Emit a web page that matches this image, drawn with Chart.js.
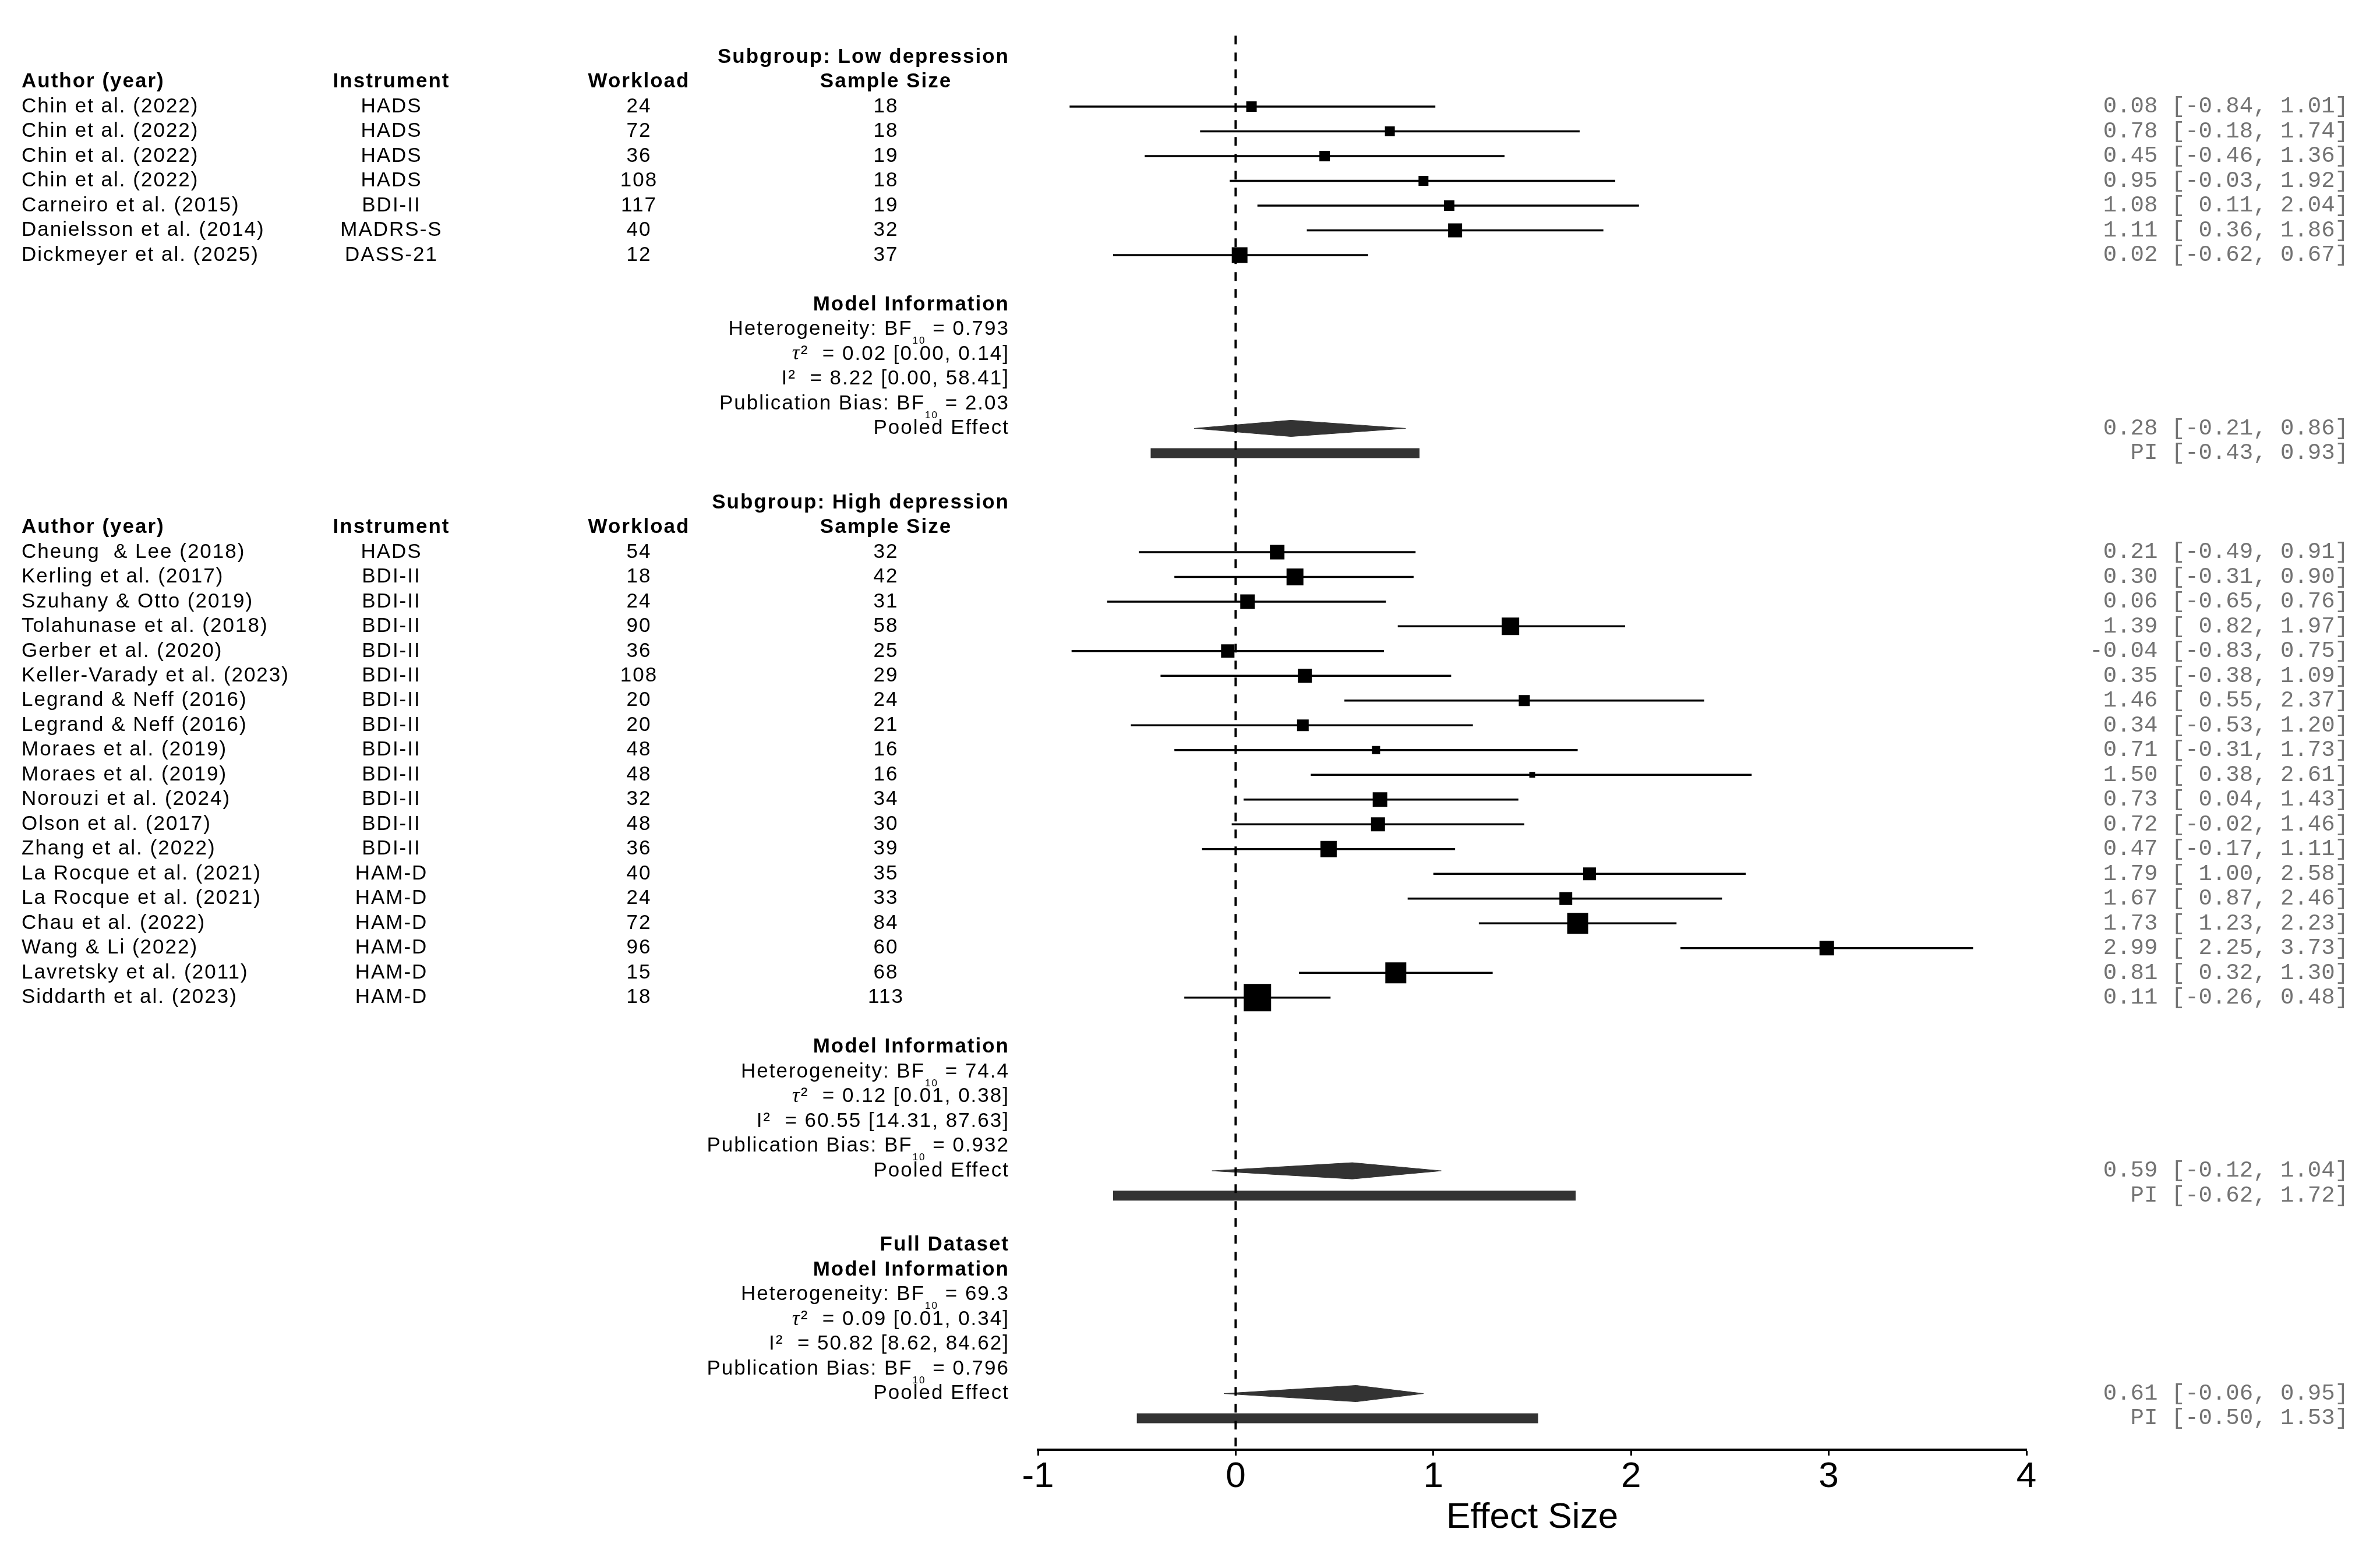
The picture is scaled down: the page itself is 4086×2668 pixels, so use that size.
<!DOCTYPE html>
<html>
<head>
<meta charset="utf-8">
<script src="https://cdn.jsdelivr.net/npm/chart.js"></script>
<style>
  html, body { margin: 0; padding: 0; background: #fff; }
  #wrap { width: 4086px; height: 2668px; }
</style>
</head>
<body>
<div id="wrap"><canvas id="chart1" width="4086" height="2668"></canvas></div>
<script>
// ---- data ----
const lowAuthors = ['Chin et al. (2022)', 'Chin et al. (2022)', 'Chin et al. (2022)', 'Chin et al. (2022)',
  'Carneiro et al. (2015)', 'Danielsson et al. (2014)', 'Dickmeyer et al. (2025)'];
const lowInstruments = ['HADS', 'HADS', 'HADS', 'HADS', 'BDI-II', 'MADRS-S', 'DASS-21'];
const lowWorkload = [24, 72, 36, 108, 117, 40, 12];
const lowSampleSize = [18, 18, 19, 18, 19, 32, 37];
const lowEffect = [0.08, 0.78, 0.45, 0.95, 1.08, 1.11, 0.02];
const lowLower = [-0.84, -0.18, -0.46, -0.03, 0.11, 0.36, -0.62];
const lowUpper = [1.01, 1.74, 1.36, 1.92, 2.04, 1.86, 0.67];
const lowWeight = [1.8, 1.7, 1.8, 1.7, 1.8, 2.4, 2.7];   // relative study weight (marker size)

const highAuthors = ['Cheung  & Lee (2018)', 'Kerling et al. (2017)', 'Szuhany & Otto (2019)', 'Tolahunase et al. (2018)',
  'Gerber et al. (2020)', 'Keller-Varady et al. (2023)', 'Legrand & Neff (2016)', 'Legrand & Neff (2016)',
  'Moraes et al. (2019)', 'Moraes et al. (2019)', 'Norouzi et al. (2024)', 'Olson et al. (2017)',
  'Zhang et al. (2022)', 'La Rocque et al. (2021)', 'La Rocque et al. (2021)', 'Chau et al. (2022)',
  'Wang & Li (2022)', 'Lavretsky et al. (2011)', 'Siddarth et al. (2023)'];
const highInstruments = ['HADS', 'BDI-II', 'BDI-II', 'BDI-II', 'BDI-II', 'BDI-II', 'BDI-II', 'BDI-II', 'BDI-II',
  'BDI-II', 'BDI-II', 'BDI-II', 'BDI-II', 'HAM-D', 'HAM-D', 'HAM-D', 'HAM-D', 'HAM-D', 'HAM-D'];
const highWorkload = [54, 18, 24, 90, 36, 108, 20, 20, 48, 48, 32, 48, 36, 40, 24, 72, 96, 15, 18];
const highSampleSize = [32, 42, 31, 58, 25, 29, 24, 21, 16, 16, 34, 30, 39, 35, 33, 84, 60, 68, 113];
const highEffect = [0.21, 0.30, 0.06, 1.39, -0.04, 0.35, 1.46, 0.34, 0.71, 1.50, 0.73, 0.72, 0.47, 1.79, 1.67, 1.73, 2.99, 0.81, 0.11];
const highLower = [-0.49, -0.31, -0.65, 0.82, -0.83, -0.38, 0.55, -0.53, -0.31, 0.38, 0.04, -0.02, -0.17, 1.00, 0.87, 1.23, 2.25, 0.32, -0.26];
const highUpper = [0.91, 0.90, 0.76, 1.97, 0.75, 1.09, 2.37, 1.20, 1.73, 2.61, 1.43, 1.46, 1.11, 2.58, 2.46, 2.23, 3.73, 1.30, 0.48];
const highWeight = [2.5, 2.9, 2.5, 3.0, 2.3, 2.4, 1.9, 2.0, 1.4, 1.0, 2.5, 2.4, 2.8, 2.2, 2.2, 3.6, 2.5, 3.6, 4.7];

// model blocks: low, high, full dataset
const modelHeterogeneityBF = ['0.793', '74.4', '69.3'];
const modelTau2 = ['0.02 [0.00, 0.14]', '0.12 [0.01, 0.38]', '0.09 [0.01, 0.34]'];
const modelI2 = ['8.22 [0.00, 58.41]', '60.55 [14.31, 87.63]', '50.82 [8.62, 84.62]'];
const modelPubBiasBF = ['2.03', '0.932', '0.796'];
const pooledEffect = [0.28, 0.59, 0.61];
const pooledLower = [-0.21, -0.12, -0.06];
const pooledUpper = [0.86, 1.04, 0.95];
const piLower = [-0.43, -0.62, -0.50];
const piUpper = [0.93, 1.72, 1.53];

const xTicks = [-1, 0, 1, 2, 3, 4];

// ---- styling ----
const SANS = '"Liberation Sans", Arial, Helvetica, sans-serif';
const MONO = '"Liberation Mono", "Courier New", monospace';
const SERIF = '"Liberation Serif", "Times New Roman", serif';
const F_REG = '35px ' + SANS;
const F_BOLD = 'bold 35px ' + SANS;
const F_SUB = '17px ' + SANS;
const F_TAU = 'italic 36px ' + SERIF;
const F_MONO = '39px ' + MONO;
const LS = '2px';
const X_AUTHOR = 37, X_INSTR = 672, X_WORK = 1097, X_N = 1521, X_LABEL = 1733, X_CI = 4032;
const SUB_DY = 20;
const DIAMOND_H = 0.33;   // half height in row units

function fmt(v) { return v.toFixed(2); }
function ciText(es, lo, hi) { return fmt(es) + ' [' + fmt(lo).padStart(5, ' ') + ', ' + fmt(hi) + ']'; }

// ---- build rows ----
const textItems = [];
const squarePts = [];
const squareSize = [];
const whiskers = [];
const diamonds = [];
const piBars = [];
let row = 0;

function txt(r, x, align, segs, extra) {
  textItems.push(Object.assign({ row: r, x: x, align: align, segs: segs }, extra || {}));
}

function addModel(k) {
  txt(row++, X_LABEL, 'right', [{ t: 'Model Information', font: F_BOLD }]);
  txt(row++, X_LABEL, 'right', [{ t: 'Heterogeneity: BF', font: F_REG }, { t: '10', font: F_SUB, dy: SUB_DY }, { t: ' = ' + modelHeterogeneityBF[k], font: F_REG }]);
  txt(row++, X_LABEL, 'right', [{ t: '\u03c4', font: F_TAU }, { t: '\u00b2  = ' + modelTau2[k], font: F_REG }]);
  txt(row++, X_LABEL, 'right', [{ t: 'I\u00b2  = ' + modelI2[k], font: F_REG }]);
  txt(row++, X_LABEL, 'right', [{ t: 'Publication Bias: BF', font: F_REG }, { t: '10', font: F_SUB, dy: SUB_DY }, { t: ' = ' + modelPubBiasBF[k], font: F_REG }]);
  txt(row, X_LABEL, 'right', [{ t: 'Pooled Effect', font: F_REG }]);
  txt(row, X_CI, 'right', [{ t: ciText(pooledEffect[k], pooledLower[k], pooledUpper[k]), font: F_MONO }], { mono: true });
  diamonds.push([
    { x: pooledLower[k], y: row }, { x: pooledEffect[k], y: row - DIAMOND_H },
    { x: pooledUpper[k], y: row }, { x: pooledEffect[k], y: row + DIAMOND_H },
    { x: pooledLower[k], y: row }
  ]);
  row++;
  txt(row, X_CI, 'right', [{ t: 'PI [' + fmt(piLower[k]) + ', ' + fmt(piUpper[k]) + ']', font: F_MONO }], { mono: true });
  piBars.push([{ x: piLower[k], y: row }, { x: piUpper[k], y: row }]);
  row++;
}

const sections = [
  { title: 'Subgroup: Low depression', au: lowAuthors, ins: lowInstruments, wl: lowWorkload, n: lowSampleSize, es: lowEffect, lo: lowLower, hi: lowUpper, wt: lowWeight },
  { title: 'Subgroup: High depression', au: highAuthors, ins: highInstruments, wl: highWorkload, n: highSampleSize, es: highEffect, lo: highLower, hi: highUpper, wt: highWeight }
];

sections.forEach((s, k) => {
  txt(row++, X_LABEL, 'right', [{ t: s.title, font: F_BOLD }]);
  txt(row, X_AUTHOR, 'left', [{ t: 'Author (year)', font: F_BOLD }]);
  txt(row, X_INSTR, 'center', [{ t: 'Instrument', font: F_BOLD }]);
  txt(row, X_WORK, 'center', [{ t: 'Workload', font: F_BOLD }]);
  txt(row, X_N, 'center', [{ t: 'Sample Size', font: F_BOLD }]);
  row++;
  s.au.forEach((a, i) => {
    txt(row, X_AUTHOR, 'left', [{ t: a, font: F_REG }]);
    txt(row, X_INSTR, 'center', [{ t: s.ins[i], font: F_REG }]);
    txt(row, X_WORK, 'center', [{ t: String(s.wl[i]), font: F_REG }]);
    txt(row, X_N, 'center', [{ t: String(s.n[i]), font: F_REG }]);
    txt(row, X_CI, 'right', [{ t: ciText(s.es[i], s.lo[i], s.hi[i]), font: F_MONO }], { mono: true });
    squarePts.push({ x: s.es[i], y: row });
    squareSize.push(s.wt[i]);
    whiskers.push([{ x: s.lo[i], y: row }, { x: s.hi[i], y: row }]);
    row++;
  });
  row++;
  addModel(k);
  row++;
});
txt(row++, X_LABEL, 'right', [{ t: 'Full Dataset', font: F_BOLD }]);
addModel(2);

const Y_TOP = -1.527, Y_BOTTOM = 56.27;

// ---- datasets ----
const datasets = [];
datasets.push({
  type: 'line', data: [{ x: 0, y: -0.87 }, { x: 0, y: Y_BOTTOM }],
  borderColor: '#000', borderWidth: 4, borderDash: [15, 14], pointRadius: 0, order: 0
});
datasets.push({
  type: 'scatter', data: squarePts,
  pointStyle: 'rect', backgroundColor: '#000', borderWidth: 0,
  pointRadius: ctx => squareSize[ctx.dataIndex] * 10 / Math.SQRT2, order: 1
});
whiskers.forEach(w => datasets.push({
  type: 'line', data: w, borderColor: '#000', borderWidth: 3.5, pointRadius: 0, order: 2
}));
diamonds.forEach(d => datasets.push({
  type: 'line', data: d, borderColor: '#333', backgroundColor: '#333', borderWidth: 1,
  fill: 'shape', pointRadius: 0, order: 3
}));
piBars.forEach(b => datasets.push({
  type: 'line', data: b, borderColor: '#333', borderWidth: 17, borderCapStyle: 'butt', pointRadius: 0, order: 3
}));

const textPlugin = {
  id: 'forestText',
  afterDraw(chart) {
    const ctx = chart.ctx, ys = chart.scales.y;
    ctx.save();
    ctx.textBaseline = 'middle';
    ctx.textAlign = 'left';
    textItems.forEach(it => {
      const y = ys.getPixelForValue(it.row);
      ctx.fillStyle = it.mono ? '#737373' : '#000';
      ctx.letterSpacing = it.mono ? '0px' : LS;
      const widths = it.segs.map(s => { ctx.font = s.font; return ctx.measureText(s.t).width; });
      const total = widths.reduce((a, b) => a + b, 0);
      let x = it.align === 'right' ? it.x - total : it.align === 'center' ? it.x - total / 2 : it.x;
      it.segs.forEach((s, i) => {
        ctx.font = s.font;
        ctx.fillText(s.t, x, y + (s.dy || 0));
        x += widths[i];
      });
    });
    ctx.restore();
  }
};

const config = {
  type: 'scatter',
  data: { datasets: datasets },
  options: {
    responsive: false,
    animation: false,
    devicePixelRatio: 1,
    events: [],
    layout: { padding: { left: 1782, right: 607, top: 0, bottom: 0 } },
    plugins: { legend: { display: false }, tooltip: { enabled: false } },
    scales: {
      x: {
        type: 'linear', min: xTicks[0], max: xTicks[xTicks.length - 1],
        afterBuildTicks: s => { s.ticks = xTicks.map(v => ({ value: v })); },
        ticks: { color: '#000', padding: 0, font: { family: SANS, size: 62 }, callback: v => String(v) },
        grid: { drawOnChartArea: false, drawTicks: true, tickLength: 10, tickWidth: 3, tickColor: '#000' },
        border: { display: true, color: '#000', width: 4 },
        title: { display: true, text: 'Effect Size', color: '#000', font: { family: SANS, size: 62, lineHeight: 1 }, padding: { top: 0, bottom: 31 } },
        afterFit: s => { s.height = 179; s.paddingLeft = 0; s.paddingRight = 0; }
      },
      y: { type: 'linear', display: false, reverse: true, min: Y_TOP, max: Y_BOTTOM }
    }
  },
  plugins: [textPlugin]
};

const myChart = new Chart(document.getElementById('chart1'), config);
</script>
</body>
</html>
